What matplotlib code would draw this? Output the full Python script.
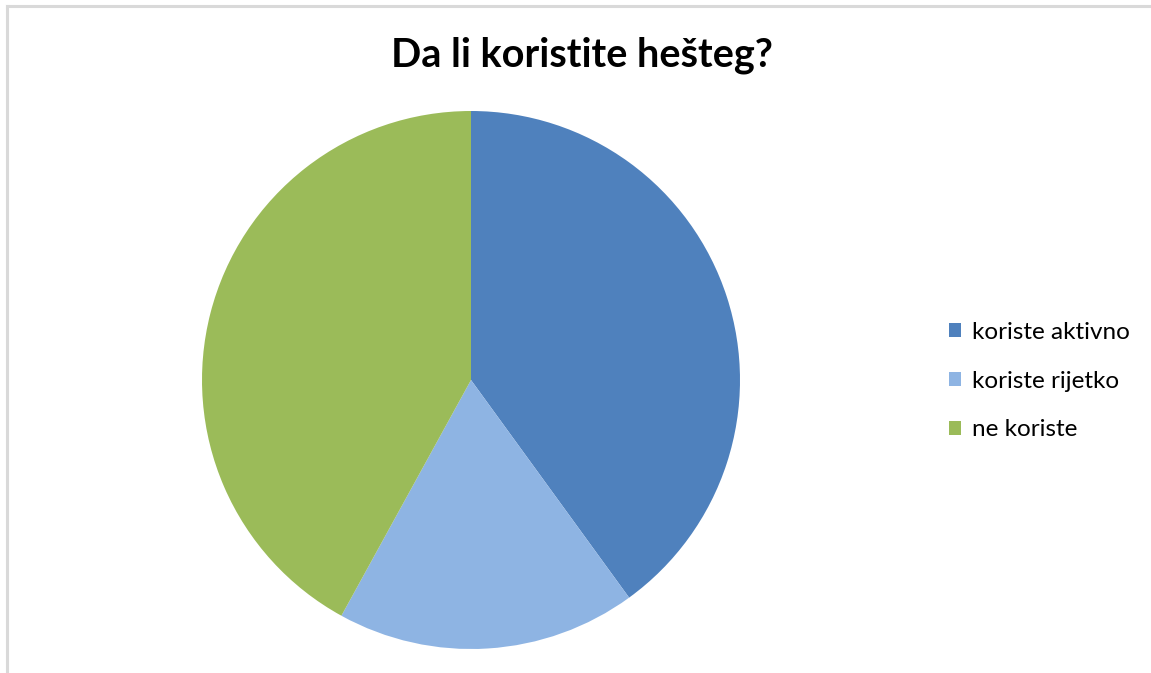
import matplotlib
matplotlib.use('Agg')
import matplotlib.pyplot as plt
from matplotlib.lines import Line2D

plt.rcParams['font.family'] = ['Lato', 'DejaVu Sans']

# podaci
labels = ['koriste aktivno', 'koriste rijetko', 'ne koriste']
values = [40, 18, 42]
colors = ['#4F81BD', '#8EB4E3', '#9BBB59']

fig = plt.figure(figsize=(11.51, 6.73), dpi=100)

# okvir grafikona (gore i lijevo)
fig.add_artist(Line2D([6.5/1151, 6.5/1151], [0, 1 - 6/673], color='#d9d9d9', lw=2.2))
fig.add_artist(Line2D([6.5/1151, 1], [1 - 6/673, 1 - 6/673], color='#d9d9d9', lw=2.2))

ax = fig.add_axes([(471-269)/1151, (293-269)/673, 538/1151, 538/673])
wedges, _ = ax.pie(values, colors=colors, startangle=90, counterclock=False,
                   radius=1, wedgeprops=dict(linewidth=0))
ax.set_xlim(-1, 1)
ax.set_ylim(-1, 1)
ax.set_aspect('equal')
ax.axis('off')

fig.text(582/1151, 1 - 55/673, 'Da li koristite hešteg?', ha='center', va='center',
         fontsize=28.5, fontweight='bold')

fig.legend(wedges, labels, loc='center left', bbox_to_anchor=(949/1151, 1 - 381/673),
           frameon=False, fontsize=17.5, handlelength=0.5, handleheight=0.5,
           handletextpad=0.45, labelspacing=1.15, borderaxespad=0, borderpad=0)

fig.savefig('out.png', dpi=100)
